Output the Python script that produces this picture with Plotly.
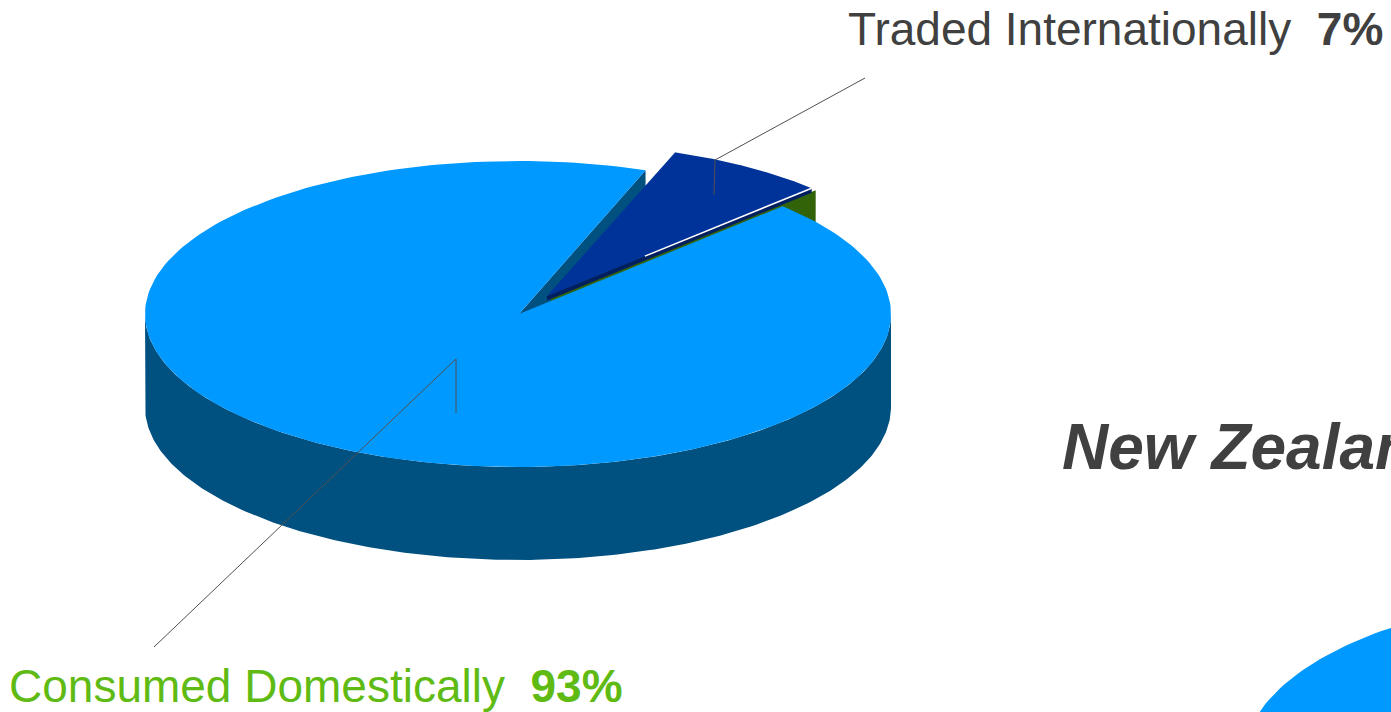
import numpy as np
import plotly.graph_objects as go

# Share of production, in percent
categories = ["Traded Internationally", "Consumed Domestically"]
shares = [7, 93]
first_slice_angle = 20  # degrees clockwise from twelve o'clock

TEXT_GREY = "#404040"
TEXT_GREEN = "#5FBB14"
TOP_BLUE = "#0099FF"
WALL_BLUE = "#005080"
SLICE_NAVY = "#003399"
STRIP_NAVY = "#001F60"
WALL_GREEN = "#336309"

# Projection of the disc onto the page, in pixels
CX, CY, RX, RY, DEPTH = 518, 314, 373, 153, 93
APEX_X = CX + 1
EXPLODE = (29, -18)
GREEN_SHIFT = (33, -16)
STRIP = 4.5


def rim(deg_from, deg_to, cx=CX, cy=CY, rx=RX, ry=RY, n=240):
    """Points along the rim between two clockwise angles from twelve o'clock."""
    t = np.radians(90 - np.linspace(deg_from, deg_to, n))
    return cx + rx * np.cos(t), cy - ry * np.sin(t)


def polygon(name, xs, ys, color):
    return go.Scatter(
        x=list(xs), y=list(ys), mode="lines", fill="toself", fillcolor=color,
        line=dict(width=0, color=color), hoverinfo="skip", name=name, showlegend=False,
    )


def leader(xs, ys):
    return go.Scatter(
        x=xs, y=ys, mode="lines", line=dict(color="#505050", width=1),
        hoverinfo="skip", showlegend=False,
    )


# Slice boundaries follow from the shares
a0 = first_slice_angle
a1 = a0 + shares[0] * 3.6
a2 = a1 + shares[1] * 3.6

fig = go.Figure()

# Outer wall of the disc, front half only
tx, ty = rim(90, 270)
fig.add_trace(polygon("outer wall", np.r_[tx, tx[::-1]], np.r_[ty, ty[::-1] + DEPTH], WALL_BLUE))

# Cut wall left open where the small slice was pulled out
ex, ey = rim(a0, a0, n=1)
fig.add_trace(polygon("cut wall",
                      [APEX_X, ex[0], ex[0], APEX_X],
                      [CY, ey[0], ey[0] + DEPTH, CY + DEPTH], WALL_BLUE))

# Green inner wall on the far side of the gap
gx, gy = rim(a1, a1, n=1)
sx, sy = GREEN_SHIFT
fig.add_trace(polygon("inner wall",
                      [CX + sx, gx[0] + sx, gx[0] + sx, CX + sx],
                      [CY + sy, gy[0] + sy, gy[0] + sy + DEPTH, CY + sy + DEPTH], WALL_GREEN))

# Top face of the large slice
mx, my = rim(a1, a2)
fig.add_trace(polygon(categories[1], np.r_[APEX_X, mx], np.r_[CY, my], TOP_BLUE))

# Pulled-out slice with its dark lower edge
ox, oy = EXPLODE
px, py = rim(a0, a1, cx=CX + ox, cy=CY + oy)
fig.add_trace(polygon("slice edge",
                      [CX + ox, px[-1], px[-1], CX + ox],
                      [CY + oy, py[-1], py[-1] + STRIP, CY + oy + STRIP], STRIP_NAVY))
fig.add_trace(polygon(categories[0], np.r_[CX + ox, px], np.r_[CY + oy, py], SLICE_NAVY))

# Highlight along the outer part of that edge
hl = 0.37
fig.add_trace(go.Scatter(
    x=[CX + ox + hl * (px[-1] - CX - ox), px[-1]],
    y=[CY + oy + hl * (py[-1] - CY - oy), py[-1]],
    mode="lines", line=dict(color="white", width=1.5), hoverinfo="skip", showlegend=False,
))

# Leader lines to the two labels
fig.add_trace(leader([865, 715, 714], [78, 160, 195]))
fig.add_trace(leader([154, 456, 456], [647, 359, 413]))

# Neighbouring disc running off the corner of the page
nx, ny = rim(0, 360, cx=1617, cy=759, rx=373, ry=165)
fig.add_trace(polygon("neighbouring disc", nx, ny, TOP_BLUE))

fig.update_layout(
    width=1391, height=712, margin=dict(l=0, r=0, t=0, b=0),
    paper_bgcolor="white", plot_bgcolor="white", showlegend=False,
    xaxis=dict(range=[0, 1391], visible=False, fixedrange=True),
    yaxis=dict(range=[712, 0], visible=False, fixedrange=True),
    font=dict(family="Liberation Sans, Arial, sans-serif"),
    annotations=[
        dict(x=846, y=29, xref="x", yref="y", xanchor="left", yanchor="middle", showarrow=False,
             text=f"{categories[0]}\u00a0\u00a0<b>{shares[0]}%</b>",
             font=dict(size=46, color=TEXT_GREY)),
        dict(x=7, y=686, xref="x", yref="y", xanchor="left", yanchor="middle", showarrow=False,
             text=f"{categories[1]}\u00a0\u00a0<b>{shares[1]}%</b>",
             font=dict(size=46, color=TEXT_GREEN)),
        dict(x=1060, y=447, xref="x", yref="y", xanchor="left", yanchor="middle", showarrow=False,
             text="<b><i>New Zealand</i></b>",
             font=dict(size=64, color=TEXT_GREY)),
    ],
)

fig.write_html("out.html")
